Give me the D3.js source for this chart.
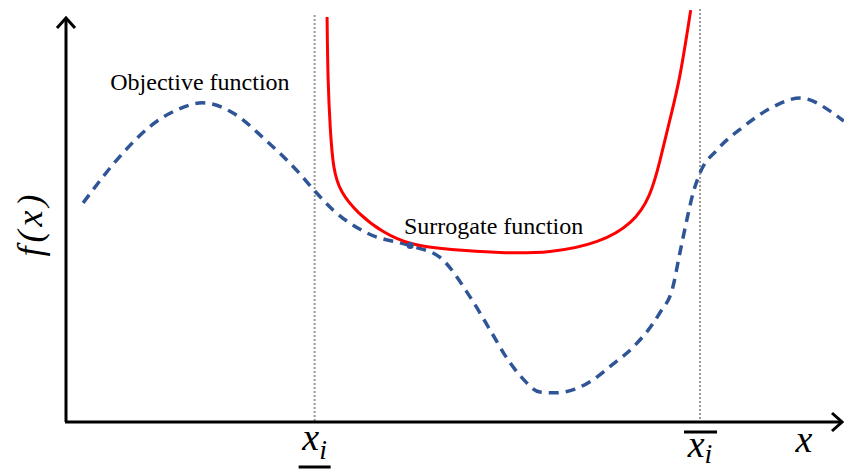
<!DOCTYPE html>
<html>
<head>
<meta charset="utf-8">
<script src="https://cdn.jsdelivr.net/npm/d3@7"></script>
<style>
  body { margin: 0; background: #fff; }
</style>
</head>
<body>
<div id="chart"></div>
<script>
// objective function (blue dashed)
var objX = [0.22, 0.77, 1.07, 1.42, 1.76, 2.15, 2.57, 3.00, 3.19, 3.44, 3.87, 4.43, 4.81, 5.20, 5.48, 5.69, 5.87, 6.10, 6.29, 6.55, 6.78, 7.04, 7.30, 7.64, 7.81, 7.90, 7.99, 8.07, 8.16, 8.38, 8.71, 9.10, 9.45, 9.87, 10.01];
var objY = [5.41, 6.72, 7.28, 7.70, 7.88, 7.63, 6.96, 6.15, 5.73, 5.23, 4.67, 4.35, 4.07, 3.09, 2.20, 1.53, 1.09, 0.74, 0.72, 0.81, 1.04, 1.43, 1.85, 2.69, 3.33, 4.17, 4.99, 5.65, 6.15, 6.72, 7.28, 7.78, 8.00, 7.63, 7.43];

// surrogate function (red)
var surX = [3.36, 3.37, 3.40, 3.44, 3.53, 3.75, 4.08, 4.43, 4.94, 5.59, 6.23, 6.87, 7.30, 7.52, 7.64, 7.77, 7.90, 8.04];
var surY = [10.0, 8.44, 7.21, 6.22, 5.68, 5.16, 4.67, 4.37, 4.25, 4.17, 4.17, 4.42, 4.91, 5.56, 6.40, 7.46, 8.44, 10.17];

// bounds and touching point
var bounds = [3.20, 8.16];
var boundTop = [10.05, 10.2];
var touch = [4.43, 4.36];

var labels = ["Objective function", "Surrogate function"];
var labelPos = [[0.57, 8.2], [4.35, 4.64]];

var serif = "Liberation Serif";

var width = 844, height = 470;
var x = d3.scaleLinear().domain([0, 10]).range([66, 843]);
var y = d3.scaleLinear().domain([0, 10]).range([422, 17]);

var svg = d3.select("#chart").append("svg")
  .attr("width", width)
  .attr("height", height);

// dotted bounds
svg.selectAll(".bound")
  .data(bounds)
  .join("line")
  .attr("x1", d => x(d)).attr("x2", d => x(d))
  .attr("y1", (d, i) => y(boundTop[i])).attr("y2", y(0))
  .attr("stroke", "#999")
  .attr("stroke-width", 2)
  .attr("stroke-dasharray", "2,2");

var line = d3.line().curve(d3.curveMonotoneX)
  .x(d => x(d[0])).y(d => y(d[1]));

// objective
svg.append("path")
  .attr("d", line(d3.zip(objX, objY)))
  .attr("fill", "none")
  .attr("stroke", "#2f5597")
  .attr("stroke-width", 3.5)
  .attr("stroke-dasharray", "10,7");

// surrogate
svg.append("path")
  .attr("d", line.curve(d3.curveBasis)(d3.zip(surX, surY)))
  .attr("fill", "none")
  .attr("stroke", "#ff0000")
  .attr("stroke-width", 3);

svg.append("circle")
  .attr("cx", x(touch[0])).attr("cy", y(touch[1]))
  .attr("r", 3.5)
  .attr("fill", "#2f5597");

// axes with arrows
var ax = svg.append("g").attr("stroke", "#000").attr("stroke-width", 3).attr("fill", "none");
ax.append("line").attr("x1", x(0)).attr("y1", y(0)).attr("x2", x(0)).attr("y2", y(10) + 1);
ax.append("line").attr("x1", x(0) - 1).attr("y1", y(0)).attr("x2", x(10) - 1).attr("y2", y(0));
ax.append("path").attr("d", `M${x(0) - 9},${y(10) + 11}L${x(0)},${y(10) + 1}L${x(0) + 9},${y(10) + 11}`);
ax.append("path").attr("d", `M${x(10) - 11},${y(0) - 9}L${x(10) - 1},${y(0)}L${x(10) - 11},${y(0) + 9}`);

// text labels
svg.selectAll(".lbl")
  .data(labels)
  .join("text")
  .attr("x", (d, i) => x(labelPos[i][0]))
  .attr("y", (d, i) => y(labelPos[i][1]))
  .attr("font-size", 24)
  .style("font-family", serif)
  .attr("fill", "#000")
  .text(d => d);

svg.append("text")
  .attr("transform", `translate(42,${(y(0) + y(10)) / 2 + 4}) rotate(-90)`)
  .attr("text-anchor", "middle")
  .attr("font-size", 36)
  .style("font-family", serif)
  .attr("font-style", "italic")
  .attr("letter-spacing", 4)
  .text("f(x)");

// x_i labels
var mathFont = 38;
var lowLbl = svg.append("text")
  .attr("x", x(bounds[0]))
  .attr("y", 450)
  .attr("text-anchor", "middle")
  .attr("font-size", mathFont)
  .style("font-family", serif)
  .attr("font-style", "italic");
lowLbl.append("tspan").text("x");
lowLbl.append("tspan").attr("font-size", 28).attr("dy", 9).text("i");
svg.append("line")
  .attr("x1", x(bounds[0]) - 16).attr("x2", x(bounds[0]) + 16)
  .attr("y1", 467).attr("y2", 467)
  .attr("stroke", "#000").attr("stroke-width", 3);

var upLbl = svg.append("text")
  .attr("x", x(bounds[1]))
  .attr("y", 457)
  .attr("text-anchor", "middle")
  .attr("font-size", mathFont)
  .style("font-family", serif)
  .attr("font-style", "italic");
upLbl.append("tspan").text("x");
upLbl.append("tspan").attr("font-size", 28).attr("dy", 6).text("i");
svg.append("line")
  .attr("x1", x(bounds[1]) - 16).attr("x2", x(bounds[1]) + 17)
  .attr("y1", 432).attr("y2", 432)
  .attr("stroke", "#000").attr("stroke-width", 3);

svg.append("text")
  .attr("x", 804)
  .attr("y", 452)
  .attr("text-anchor", "middle")
  .attr("font-size", mathFont)
  .style("font-family", serif)
  .attr("font-style", "italic")
  .text("x");
</script>
</body>
</html>
